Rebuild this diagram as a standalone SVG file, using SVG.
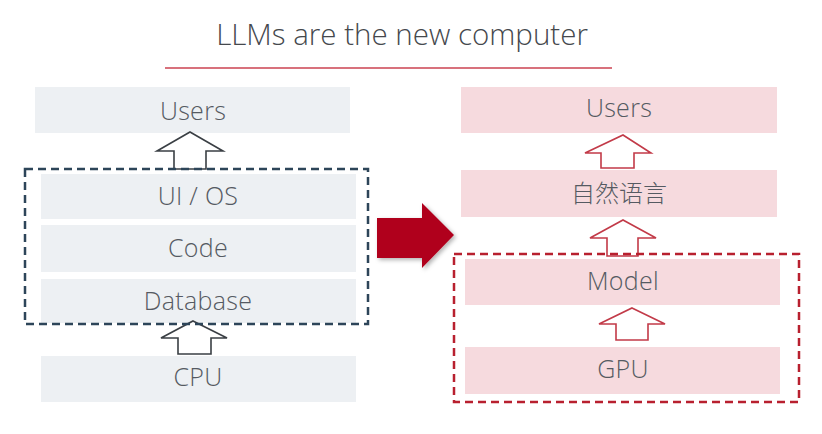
<svg xmlns="http://www.w3.org/2000/svg" width="822" height="434" viewBox="0 0 822 434">
<defs>
<style>
.t{font-family:"Open Sans","Noto Sans CJK SC",sans-serif;font-weight:300;font-size:25px;letter-spacing:0.3px;fill:#555a62;text-anchor:middle}
.gb{fill:#edf0f3}
.pb{fill:#f6dade}
.ga{fill:#fff;stroke:#3a3f44;stroke-width:1.6;stroke-linejoin:miter}
.ra{fill:#fff;stroke:#c23a48;stroke-width:1.6;stroke-linejoin:miter}
</style>
<filter id="sh" x="-20%" y="-20%" width="150%" height="150%">
<feDropShadow dx="2" dy="2" stdDeviation="2" flood-color="#000" flood-opacity="0.3"/>
</filter>
</defs>
<rect width="822" height="434" fill="#fff"/>
<g id="title">
<text x="402" y="45" style="font-family:'Open Sans',sans-serif;font-weight:300;font-size:29.5px;fill:#45484d;text-anchor:middle">LLMs are the new computer</text>
<line x1="165" y1="68" x2="612" y2="68" stroke="#d8717c" stroke-width="2"/>
</g>
<g id="left-users"><rect class="gb" x="35" y="87" width="315" height="46"/><text class="t" x="193" y="120">Users</text></g>
<g id="left-uios"><rect class="gb" x="41" y="174" width="315" height="45"/><text class="t" x="198" y="205">UI / OS</text></g>
<g id="left-code"><rect class="gb" x="41" y="225" width="315" height="47"/><text class="t" x="198" y="257">Code</text></g>
<g id="left-db"><rect class="gb" x="41" y="279" width="315" height="44"/><text class="t" x="198" y="310">Database</text></g>
<g id="left-cpu"><rect class="gb" x="41" y="356" width="315" height="46"/><text class="t" x="198" y="386">CPU</text></g>
<g id="right-users"><rect class="pb" x="461" y="87" width="316" height="46"/><text class="t" x="619" y="117">Users</text></g>
<g id="right-nl"><rect class="pb" x="461" y="170" width="316" height="47"/><text class="t" x="619" y="202" style="font-family:'Noto Sans CJK SC',sans-serif;font-size:24px;letter-spacing:0">自然语言</text></g>
<g id="right-model"><rect class="pb" x="465" y="259" width="315" height="46"/><text class="t" x="623" y="290">Model</text></g>
<g id="right-gpu"><rect class="pb" x="465" y="347" width="315" height="47"/><text class="t" x="623" y="378">GPU</text></g>
<g id="connectors">
<polygon class="ga" points="190,132 223,151 206,151 206,169 174,169 174,151 157,151"/>
<polygon class="ga" points="193,321 227,338 211,338 211,354 178,354 178,338 161,338"/>
<polygon class="ra" points="623,135 651,153 634,153 634,168 601,168 601,153 585,153"/>
<polygon class="ra" points="623,220 656,238 638,238 638,256 607,256 607,238 590,238"/>
<polygon class="ra" points="632,308 665,324 648,324 648,340 616,340 616,324 599,324"/>
<polygon points="377,218 422,218 422,203 454,235 422,268 422,258 377,258" fill="#b0001e" filter="url(#sh)"/>
</g>
<g id="groups">
<rect x="25" y="169" width="343" height="155" fill="none" stroke="#2d4559" stroke-width="2.5" stroke-dasharray="8,5"/>
<rect x="454" y="254" width="345" height="148" fill="none" stroke="#b8202f" stroke-width="2.5" stroke-dasharray="8,5"/>
</g>
</svg>
